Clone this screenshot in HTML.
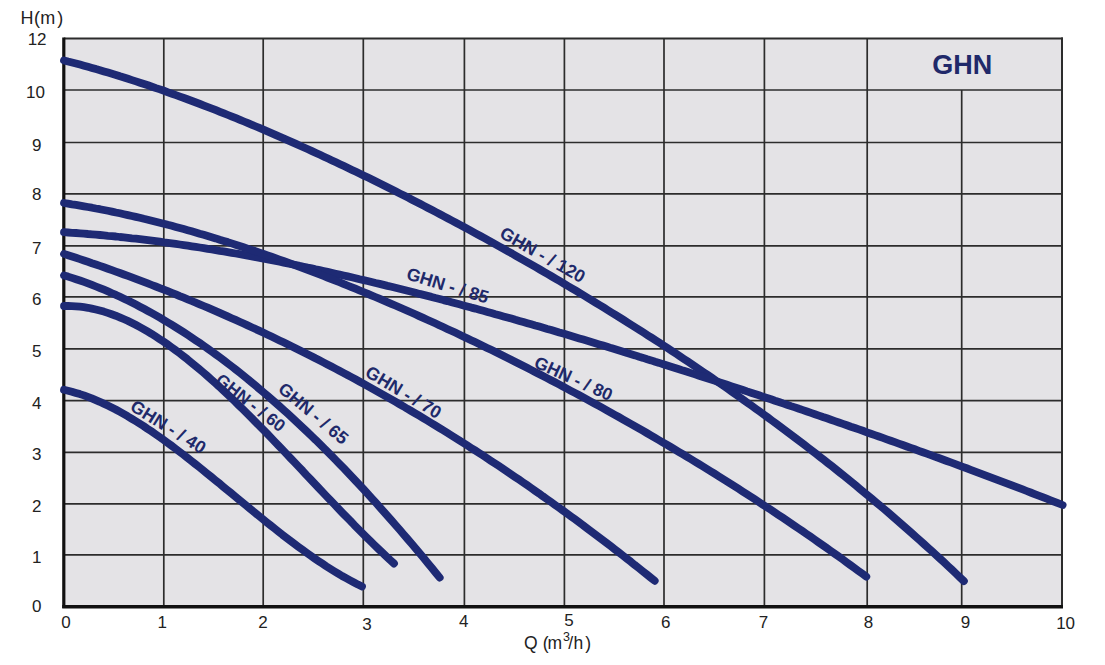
<!DOCTYPE html>
<html><head><meta charset="utf-8"><title>GHN</title>
<style>
html,body{margin:0;padding:0;background:#fff;}
body{width:1105px;height:665px;overflow:hidden;}
svg{display:block;}
.ax{font-family:"Liberation Sans",sans-serif;font-size:17px;fill:#222;}
.lb{font-family:"Liberation Sans",sans-serif;font-weight:bold;fill:#20296a;}
.ti{font-family:"Liberation Sans",sans-serif;font-size:27px;font-weight:bold;fill:#20296a;}
</style></head>
<body>
<svg width="1105" height="665" viewBox="0 0 1105 665">
<rect x="63.8" y="38.6" width="998.2" height="567.7" fill="#e4e3e6"/>
<line x1="63.8" y1="554.8" x2="1062.0" y2="554.8" stroke="#2c2c2c" stroke-width="1.7"/>
<line x1="63.8" y1="503.9" x2="1062.0" y2="503.9" stroke="#2c2c2c" stroke-width="1.7"/>
<line x1="63.8" y1="452.4" x2="1062.0" y2="452.4" stroke="#2c2c2c" stroke-width="1.7"/>
<line x1="63.8" y1="400.6" x2="1062.0" y2="400.6" stroke="#2c2c2c" stroke-width="1.7"/>
<line x1="63.8" y1="348.8" x2="1062.0" y2="348.8" stroke="#2c2c2c" stroke-width="1.7"/>
<line x1="63.8" y1="296.8" x2="1062.0" y2="296.8" stroke="#2c2c2c" stroke-width="1.7"/>
<line x1="63.8" y1="245.8" x2="1062.0" y2="245.8" stroke="#2c2c2c" stroke-width="1.7"/>
<line x1="63.8" y1="193.8" x2="1062.0" y2="193.8" stroke="#2c2c2c" stroke-width="1.7"/>
<line x1="63.8" y1="142.5" x2="1062.0" y2="142.5" stroke="#2c2c2c" stroke-width="1.7"/>
<line x1="63.8" y1="90.0" x2="1062.0" y2="90.0" stroke="#2c2c2c" stroke-width="1.7"/>
<line x1="63.8" y1="38.6" x2="1063.0" y2="38.6" stroke="#2c2c2c" stroke-width="2"/>
<line x1="163.8" y1="38.6" x2="163.8" y2="606.3" stroke="#2c2c2c" stroke-width="1.7"/>
<line x1="263.2" y1="38.6" x2="263.2" y2="606.3" stroke="#2c2c2c" stroke-width="1.7"/>
<line x1="363.3" y1="38.6" x2="363.3" y2="606.3" stroke="#2c2c2c" stroke-width="1.7"/>
<line x1="464.4" y1="38.6" x2="464.4" y2="606.3" stroke="#2c2c2c" stroke-width="1.7"/>
<line x1="564.4" y1="38.6" x2="564.4" y2="606.3" stroke="#2c2c2c" stroke-width="1.7"/>
<line x1="664.0" y1="38.6" x2="664.0" y2="606.3" stroke="#2c2c2c" stroke-width="1.7"/>
<line x1="764.4" y1="38.6" x2="764.4" y2="606.3" stroke="#2c2c2c" stroke-width="1.7"/>
<line x1="867.2" y1="38.6" x2="867.2" y2="606.3" stroke="#2c2c2c" stroke-width="1.7"/>
<line x1="961.7" y1="90.0" x2="961.7" y2="606.3" stroke="#2c2c2c" stroke-width="1.7"/>
<line x1="1062.0" y1="37.6" x2="1062.0" y2="606.3" stroke="#2c2c2c" stroke-width="2"/>
<line x1="63.8" y1="37.6" x2="63.8" y2="607.9" stroke="#111" stroke-width="3.2"/>
<line x1="62.2" y1="606.7" x2="1063.0" y2="606.7" stroke="#111" stroke-width="3.4"/>
<path d="M64.0,60.4 L68.0,61.5 L72.0,62.5 L76.0,63.5 L80.0,64.6 L84.0,65.7 L88.0,66.8 L92.0,67.9 L96.0,69.1 L100.0,70.2 L104.0,71.4 L108.0,72.6 L112.0,73.8 L116.0,75.0 L120.0,76.3 L124.0,77.5 L128.0,78.8 L132.0,80.1 L136.0,81.4 L140.0,82.7 L144.0,84.0 L148.0,85.3 L152.0,86.7 L156.0,88.1 L160.0,89.4 L164.0,90.8 L168.0,92.3 L172.0,93.7 L176.0,95.1 L180.0,96.6 L184.0,98.0 L188.0,99.5 L192.0,101.0 L196.0,102.5 L200.0,104.0 L204.0,105.6 L208.0,107.1 L212.0,108.6 L216.0,110.2 L220.0,111.8 L224.0,113.4 L228.0,115.0 L232.0,116.6 L236.0,118.2 L240.0,119.9 L244.0,121.5 L248.0,123.2 L252.0,124.8 L256.0,126.5 L260.0,128.2 L264.0,129.9 L268.0,131.6 L272.0,133.3 L276.0,135.1 L280.0,136.8 L284.0,138.6 L288.0,140.3 L292.0,142.1 L296.0,143.9 L300.0,145.7 L304.0,147.5 L308.0,149.3 L312.0,151.1 L316.0,153.0 L320.0,154.8 L324.0,156.7 L328.0,158.5 L332.0,160.4 L336.0,162.3 L340.0,164.2 L344.0,166.1 L348.0,168.0 L352.0,169.9 L356.0,171.8 L360.0,173.7 L364.0,175.7 L368.0,177.6 L372.0,179.6 L376.0,181.6 L380.0,183.5 L384.0,185.5 L388.0,187.5 L392.0,189.5 L396.0,191.5 L400.0,193.6 L404.0,195.6 L408.0,197.6 L412.0,199.7 L416.0,201.7 L420.0,203.8 L424.0,205.9 L428.0,208.0 L432.0,210.0 L436.0,212.1 L440.0,214.2 L444.0,216.4 L448.0,218.5 L452.0,220.6 L456.0,222.7 L460.0,224.9 L464.0,227.0 L468.0,229.2 L472.0,231.4 L476.0,233.6 L480.0,235.7 L484.0,237.9 L488.0,240.1 L492.0,242.4 L496.0,244.6 L500.0,246.8 L504.0,249.0 L508.0,251.3 L512.0,253.5 L515.9,255.8 L519.9,258.1 L523.9,260.3 L527.9,262.6 L531.9,264.9 L535.9,267.2 L539.9,269.5 L543.9,271.9 L547.9,274.2 L551.9,276.5 L555.9,278.9 L559.9,281.2 L563.9,283.6 L567.9,286.0 L571.9,288.3 L575.9,290.7 L579.9,293.1 L583.9,295.5 L587.9,298.0 L591.9,300.4 L595.9,302.8 L599.9,305.3 L603.9,307.7 L607.9,310.2 L611.9,312.7 L615.9,315.1 L619.9,317.6 L623.9,320.1 L627.9,322.7 L631.9,325.2 L635.9,327.7 L639.9,330.3 L643.9,332.8 L647.9,335.4 L651.9,337.9 L655.9,340.5 L659.9,343.1 L663.9,345.7 L667.9,348.3 L671.9,351.0 L675.9,353.6 L679.9,356.3 L683.9,358.9 L687.9,361.6 L691.9,364.3 L695.9,367.0 L699.9,369.7 L703.9,372.4 L707.9,375.1 L711.9,377.8 L715.9,380.6 L719.9,383.4 L723.9,386.1 L727.9,388.9 L731.9,391.7 L735.9,394.5 L739.9,397.4 L743.9,400.2 L747.9,403.1 L751.9,405.9 L755.9,408.8 L759.9,411.7 L763.9,414.6 L767.9,417.5 L771.9,420.5 L775.9,423.4 L779.9,426.4 L783.9,429.3 L787.9,432.3 L791.9,435.3 L795.9,438.4 L799.9,441.4 L803.9,444.4 L807.9,447.5 L811.9,450.6 L815.9,453.7 L819.9,456.8 L823.9,459.9 L827.9,463.1 L831.9,466.2 L835.9,469.4 L839.9,472.6 L843.9,475.8 L847.9,479.1 L851.9,482.3 L855.9,485.6 L859.9,488.9 L863.9,492.2 L867.9,495.5 L871.9,498.8 L875.9,502.2 L879.9,505.5 L883.9,508.9 L887.9,512.3 L891.9,515.8 L895.9,519.2 L899.9,522.7 L903.9,526.2 L907.9,529.7 L911.9,533.2 L915.9,536.8 L919.9,540.4 L923.9,544.0 L927.9,547.6 L931.9,551.2 L935.9,554.9 L939.9,558.5 L943.9,562.2 L947.9,566.0 L951.9,569.7 L955.9,573.5 L959.9,577.3 L963.9,581.1" fill="none" stroke="#1e2a74" stroke-width="7.8" stroke-linecap="round" stroke-linejoin="round"/>
<path d="M64.0,232.2 L68.0,232.5 L72.0,232.8 L76.0,233.0 L80.0,233.3 L84.0,233.6 L88.0,234.0 L92.0,234.3 L96.0,234.6 L99.9,235.0 L103.9,235.4 L107.9,235.8 L111.9,236.1 L115.9,236.5 L119.9,237.0 L123.9,237.4 L127.9,237.8 L131.9,238.3 L135.9,238.7 L139.9,239.2 L143.9,239.7 L147.9,240.2 L151.9,240.7 L155.9,241.2 L159.9,241.7 L163.9,242.3 L167.9,242.8 L171.8,243.3 L175.8,243.9 L179.8,244.5 L183.8,245.1 L187.8,245.7 L191.8,246.3 L195.8,246.9 L199.8,247.5 L203.8,248.1 L207.8,248.8 L211.8,249.4 L215.8,250.1 L219.8,250.8 L223.8,251.4 L227.8,252.1 L231.8,252.8 L235.8,253.5 L239.8,254.2 L243.7,254.9 L247.7,255.7 L251.7,256.4 L255.7,257.2 L259.7,257.9 L263.7,258.7 L267.7,259.4 L271.7,260.2 L275.7,261.0 L279.7,261.8 L283.7,262.6 L287.7,263.4 L291.7,264.2 L295.7,265.0 L299.7,265.9 L303.7,266.7 L307.7,267.6 L311.7,268.4 L315.6,269.3 L319.6,270.1 L323.6,271.0 L327.6,271.9 L331.6,272.8 L335.6,273.7 L339.6,274.6 L343.6,275.5 L347.6,276.4 L351.6,277.3 L355.6,278.2 L359.6,279.2 L363.6,280.1 L367.6,281.0 L371.6,282.0 L375.6,283.0 L379.6,283.9 L383.6,284.9 L387.5,285.9 L391.5,286.8 L395.5,287.8 L399.5,288.8 L403.5,289.8 L407.5,290.8 L411.5,291.8 L415.5,292.8 L419.5,293.9 L423.5,294.9 L427.5,295.9 L431.5,296.9 L435.5,298.0 L439.5,299.0 L443.5,300.1 L447.5,301.1 L451.5,302.2 L455.5,303.3 L459.4,304.3 L463.4,305.4 L467.4,306.5 L471.4,307.6 L475.4,308.6 L479.4,309.7 L483.4,310.8 L487.4,311.9 L491.4,313.0 L495.4,314.2 L499.4,315.3 L503.4,316.4 L507.4,317.5 L511.4,318.6 L515.4,319.8 L519.4,320.9 L523.4,322.0 L527.4,323.2 L531.3,324.3 L535.3,325.5 L539.3,326.6 L543.3,327.8 L547.3,329.0 L551.3,330.1 L555.3,331.3 L559.3,332.5 L563.3,333.6 L567.3,334.8 L571.3,336.0 L575.3,337.2 L579.3,338.4 L583.3,339.6 L587.3,340.8 L591.3,342.0 L595.3,343.2 L599.2,344.4 L603.2,345.6 L607.2,346.8 L611.2,348.1 L615.2,349.3 L619.2,350.5 L623.2,351.7 L627.2,353.0 L631.2,354.2 L635.2,355.4 L639.2,356.7 L643.2,357.9 L647.2,359.2 L651.2,360.4 L655.2,361.7 L659.2,362.9 L663.2,364.2 L667.2,365.5 L671.1,366.7 L675.1,368.0 L679.1,369.3 L683.1,370.6 L687.1,371.8 L691.1,373.1 L695.1,374.4 L699.1,375.7 L703.1,377.0 L707.1,378.3 L711.1,379.6 L715.1,380.9 L719.1,382.2 L723.1,383.5 L727.1,384.8 L731.1,386.1 L735.1,387.4 L739.1,388.7 L743.0,390.0 L747.0,391.4 L751.0,392.7 L755.0,394.0 L759.0,395.3 L763.0,396.7 L767.0,398.0 L771.0,399.3 L775.0,400.7 L779.0,402.0 L783.0,403.4 L787.0,404.7 L791.0,406.1 L795.0,407.4 L799.0,408.8 L803.0,410.1 L807.0,411.5 L811.0,412.9 L814.9,414.2 L818.9,415.6 L822.9,417.0 L826.9,418.3 L830.9,419.7 L834.9,421.1 L838.9,422.5 L842.9,423.9 L846.9,425.3 L850.9,426.7 L854.9,428.0 L858.9,429.4 L862.9,430.8 L866.9,432.3 L870.9,433.7 L874.9,435.1 L878.9,436.5 L882.9,437.9 L886.8,439.3 L890.8,440.7 L894.8,442.2 L898.8,443.6 L902.8,445.0 L906.8,446.5 L910.8,447.9 L914.8,449.3 L918.8,450.8 L922.8,452.2 L926.8,453.7 L930.8,455.1 L934.8,456.6 L938.8,458.0 L942.8,459.5 L946.8,461.0 L950.8,462.4 L954.8,463.9 L958.7,465.4 L962.7,466.9 L966.7,468.3 L970.7,469.8 L974.7,471.3 L978.7,472.8 L982.7,474.3 L986.7,475.8 L990.7,477.3 L994.7,478.8 L998.7,480.3 L1002.7,481.8 L1006.7,483.3 L1010.7,484.9 L1014.7,486.4 L1018.7,487.9 L1022.7,489.4 L1026.7,491.0 L1030.6,492.5 L1034.6,494.1 L1038.6,495.6 L1042.6,497.2 L1046.6,498.7 L1050.6,500.3 L1054.6,501.9 L1058.6,503.4 L1062.6,505.0" fill="none" stroke="#1e2a74" stroke-width="7.8" stroke-linecap="round" stroke-linejoin="round"/>
<path d="M64.0,203.0 L68.0,203.6 L72.0,204.3 L76.0,204.9 L80.0,205.6 L84.0,206.3 L87.9,207.0 L91.9,207.7 L95.9,208.5 L99.9,209.2 L103.9,210.0 L107.9,210.8 L111.9,211.6 L115.9,212.5 L119.9,213.3 L123.9,214.2 L127.9,215.1 L131.9,216.0 L135.8,216.9 L139.8,217.8 L143.8,218.8 L147.8,219.7 L151.8,220.7 L155.8,221.7 L159.8,222.7 L163.8,223.7 L167.8,224.8 L171.8,225.8 L175.8,226.9 L179.8,228.0 L183.7,229.1 L187.7,230.2 L191.7,231.3 L195.7,232.5 L199.7,233.7 L203.7,234.8 L207.7,236.0 L211.7,237.2 L215.7,238.4 L219.7,239.7 L223.7,240.9 L227.7,242.1 L231.6,243.4 L235.6,244.7 L239.6,246.0 L243.6,247.3 L247.6,248.6 L251.6,249.9 L255.6,251.3 L259.6,252.6 L263.6,254.0 L267.6,255.4 L271.6,256.8 L275.6,258.2 L279.5,259.6 L283.5,261.0 L287.5,262.5 L291.5,263.9 L295.5,265.4 L299.5,266.9 L303.5,268.4 L307.5,269.9 L311.5,271.4 L315.5,272.9 L319.5,274.4 L323.5,276.0 L327.4,277.5 L331.4,279.1 L335.4,280.7 L339.4,282.2 L343.4,283.8 L347.4,285.5 L351.4,287.1 L355.4,288.7 L359.4,290.3 L363.4,292.0 L367.4,293.6 L371.3,295.3 L375.3,297.0 L379.3,298.7 L383.3,300.4 L387.3,302.1 L391.3,303.8 L395.3,305.5 L399.3,307.3 L403.3,309.0 L407.3,310.8 L411.3,312.5 L415.3,314.3 L419.2,316.1 L423.2,317.9 L427.2,319.7 L431.2,321.5 L435.2,323.3 L439.2,325.2 L443.2,327.0 L447.2,328.9 L451.2,330.7 L455.2,332.6 L459.2,334.5 L463.2,336.4 L467.1,338.3 L471.1,340.2 L475.1,342.1 L479.1,344.0 L483.1,345.9 L487.1,347.9 L491.1,349.8 L495.1,351.8 L499.1,353.8 L503.1,355.8 L507.1,357.7 L511.1,359.7 L515.0,361.7 L519.0,363.8 L523.0,365.8 L527.0,367.8 L531.0,369.9 L535.0,371.9 L539.0,374.0 L543.0,376.0 L547.0,378.1 L551.0,380.2 L555.0,382.3 L559.0,384.4 L562.9,386.5 L566.9,388.6 L570.9,390.8 L574.9,392.9 L578.9,395.0 L582.9,397.2 L586.9,399.4 L590.9,401.6 L594.9,403.7 L598.9,405.9 L602.9,408.1 L606.8,410.3 L610.8,412.6 L614.8,414.8 L618.8,417.0 L622.8,419.3 L626.8,421.6 L630.8,423.8 L634.8,426.1 L638.8,428.4 L642.8,430.7 L646.8,433.0 L650.8,435.3 L654.7,437.6 L658.7,440.0 L662.7,442.3 L666.7,444.7 L670.7,447.0 L674.7,449.4 L678.7,451.8 L682.7,454.2 L686.7,456.6 L690.7,459.0 L694.7,461.5 L698.7,463.9 L702.6,466.3 L706.6,468.8 L710.6,471.3 L714.6,473.7 L718.6,476.2 L722.6,478.7 L726.6,481.2 L730.6,483.8 L734.6,486.3 L738.6,488.8 L742.6,491.4 L746.6,494.0 L750.5,496.5 L754.5,499.1 L758.5,501.7 L762.5,504.4 L766.5,507.0 L770.5,509.6 L774.5,512.3 L778.5,514.9 L782.5,517.6 L786.5,520.3 L790.5,523.0 L794.5,525.7 L798.4,528.4 L802.4,531.1 L806.4,533.9 L810.4,536.6 L814.4,539.4 L818.4,542.2 L822.4,545.0 L826.4,547.8 L830.4,550.6 L834.4,553.5 L838.4,556.3 L842.4,559.2 L846.3,562.1 L850.3,565.0 L854.3,567.9 L858.3,570.8 L862.3,573.7 L866.3,576.7" fill="none" stroke="#1e2a74" stroke-width="7.8" stroke-linecap="round" stroke-linejoin="round"/>
<path d="M64.0,253.9 L68.0,255.2 L72.0,256.5 L76.0,257.8 L80.0,259.1 L84.0,260.5 L87.9,261.8 L91.9,263.2 L95.9,264.5 L99.9,265.9 L103.9,267.3 L107.9,268.7 L111.9,270.2 L115.9,271.6 L119.9,273.0 L123.9,274.5 L127.9,275.9 L131.9,277.4 L135.8,278.9 L139.8,280.4 L143.8,281.9 L147.8,283.4 L151.8,285.0 L155.8,286.5 L159.8,288.1 L163.8,289.7 L167.8,291.2 L171.8,292.8 L175.8,294.4 L179.7,296.1 L183.7,297.7 L187.7,299.3 L191.7,301.0 L195.7,302.6 L199.7,304.3 L203.7,306.0 L207.7,307.7 L211.7,309.4 L215.7,311.1 L219.7,312.9 L223.6,314.6 L227.6,316.4 L231.6,318.2 L235.6,319.9 L239.6,321.7 L243.6,323.6 L247.6,325.4 L251.6,327.2 L255.6,329.1 L259.6,330.9 L263.6,332.8 L267.6,334.7 L271.5,336.6 L275.5,338.5 L279.5,340.4 L283.5,342.3 L287.5,344.3 L291.5,346.2 L295.5,348.2 L299.5,350.2 L303.5,352.2 L307.5,354.2 L311.5,356.2 L315.4,358.3 L319.4,360.3 L323.4,362.4 L327.4,364.4 L331.4,366.5 L335.4,368.6 L339.4,370.7 L343.4,372.9 L347.4,375.0 L351.4,377.2 L355.4,379.3 L359.4,381.5 L363.3,383.7 L367.3,385.9 L371.3,388.1 L375.3,390.3 L379.3,392.6 L383.3,394.8 L387.3,397.1 L391.3,399.4 L395.3,401.7 L399.3,404.0 L403.3,406.3 L407.2,408.7 L411.2,411.0 L415.2,413.4 L419.2,415.7 L423.2,418.1 L427.2,420.5 L431.2,423.0 L435.2,425.4 L439.2,427.8 L443.2,430.3 L447.2,432.8 L451.1,435.2 L455.1,437.7 L459.1,440.3 L463.1,442.8 L467.1,445.3 L471.1,447.9 L475.1,450.4 L479.1,453.0 L483.1,455.6 L487.1,458.2 L491.1,460.9 L495.1,463.5 L499.0,466.1 L503.0,468.8 L507.0,471.5 L511.0,474.2 L515.0,476.9 L519.0,479.6 L523.0,482.4 L527.0,485.1 L531.0,487.9 L535.0,490.7 L539.0,493.4 L542.9,496.3 L546.9,499.1 L550.9,501.9 L554.9,504.8 L558.9,507.6 L562.9,510.5 L566.9,513.4 L570.9,516.3 L574.9,519.2 L578.9,522.2 L582.9,525.1 L586.8,528.1 L590.8,531.1 L594.8,534.1 L598.8,537.1 L602.8,540.1 L606.8,543.2 L610.8,546.2 L614.8,549.3 L618.8,552.4 L622.8,555.5 L626.8,558.6 L630.8,561.7 L634.7,564.9 L638.7,568.0 L642.7,571.2 L646.7,574.4 L650.7,577.6 L654.7,580.8" fill="none" stroke="#1e2a74" stroke-width="7.8" stroke-linecap="round" stroke-linejoin="round"/>
<path d="M64.0,275.4 L68.0,276.6 L72.0,277.9 L76.0,279.2 L80.0,280.5 L84.0,281.9 L88.0,283.4 L92.0,284.9 L96.0,286.5 L100.0,288.1 L104.0,289.7 L108.0,291.4 L112.0,293.2 L116.0,294.9 L120.0,296.8 L124.0,298.7 L127.9,300.6 L131.9,302.6 L135.9,304.6 L139.9,306.7 L143.9,308.8 L147.9,311.0 L151.9,313.2 L155.9,315.4 L159.9,317.7 L163.9,320.1 L167.9,322.5 L171.9,324.9 L175.9,327.4 L179.9,329.9 L183.9,332.4 L187.9,335.0 L191.9,337.7 L195.9,340.4 L199.9,343.1 L203.9,345.9 L207.9,348.7 L211.9,351.6 L215.9,354.5 L219.9,357.4 L223.9,360.4 L227.9,363.5 L231.9,366.5 L235.9,369.6 L239.9,372.8 L243.9,376.0 L247.9,379.2 L251.8,382.5 L255.8,385.8 L259.8,389.2 L263.8,392.6 L267.8,396.0 L271.8,399.5 L275.8,403.0 L279.8,406.5 L283.8,410.1 L287.8,413.7 L291.8,417.4 L295.8,421.1 L299.8,424.8 L303.8,428.6 L307.8,432.4 L311.8,436.3 L315.8,440.1 L319.8,444.1 L323.8,448.0 L327.8,452.0 L331.8,456.0 L335.8,460.1 L339.8,464.2 L343.8,468.3 L347.8,472.5 L351.8,476.7 L355.8,481.0 L359.8,485.2 L363.8,489.5 L367.8,493.9 L371.8,498.3 L375.8,502.7 L379.7,507.1 L383.7,511.6 L387.7,516.1 L391.7,520.6 L395.7,525.2 L399.7,529.8 L403.7,534.5 L407.7,539.1 L411.7,543.8 L415.7,548.6 L419.7,553.3 L423.7,558.1 L427.7,562.9 L431.7,567.8 L435.7,572.7 L439.7,577.6" fill="none" stroke="#1e2a74" stroke-width="7.8" stroke-linecap="round" stroke-linejoin="round"/>
<path d="M64.0,306.0 L68.0,306.0 L72.0,306.1 L75.9,306.3 L79.9,306.7 L83.9,307.2 L87.9,307.8 L91.8,308.6 L95.8,309.5 L99.8,310.5 L103.8,311.6 L107.7,312.9 L111.7,314.3 L115.7,315.7 L119.7,317.3 L123.6,319.0 L127.6,320.8 L131.6,322.8 L135.6,324.8 L139.5,326.9 L143.5,329.1 L147.5,331.4 L151.5,333.8 L155.4,336.3 L159.4,338.9 L163.4,341.5 L167.4,344.3 L171.3,347.1 L175.3,350.0 L179.3,353.0 L183.3,356.1 L187.3,359.2 L191.2,362.4 L195.2,365.7 L199.2,369.0 L203.2,372.4 L207.1,375.8 L211.1,379.4 L215.1,382.9 L219.1,386.5 L223.0,390.2 L227.0,393.9 L231.0,397.7 L235.0,401.5 L238.9,405.4 L242.9,409.3 L246.9,413.2 L250.9,417.2 L254.8,421.2 L258.8,425.2 L262.8,429.3 L266.8,433.3 L270.7,437.4 L274.7,441.6 L278.7,445.7 L282.7,449.9 L286.7,454.1 L290.6,458.2 L294.6,462.4 L298.6,466.6 L302.6,470.8 L306.5,475.1 L310.5,479.3 L314.5,483.5 L318.5,487.7 L322.4,491.9 L326.4,496.1 L330.4,500.2 L334.4,504.4 L338.3,508.5 L342.3,512.7 L346.3,516.8 L350.3,520.8 L354.2,524.9 L358.2,528.9 L362.2,532.9 L366.2,536.9 L370.1,540.8 L374.1,544.7 L378.1,548.6 L382.1,552.4 L386.0,556.1 L390.0,559.9 L394.0,563.5" fill="none" stroke="#1e2a74" stroke-width="7.8" stroke-linecap="round" stroke-linejoin="round"/>
<path d="M64.0,389.8 L68.0,390.7 L71.9,391.7 L75.9,392.9 L79.9,394.1 L83.9,395.4 L87.8,396.9 L91.8,398.4 L95.8,400.1 L99.8,401.8 L103.7,403.6 L107.7,405.5 L111.7,407.5 L115.7,409.5 L119.6,411.7 L123.6,413.9 L127.6,416.2 L131.5,418.6 L135.5,421.0 L139.5,423.5 L143.5,426.0 L147.4,428.7 L151.4,431.3 L155.4,434.1 L159.4,436.9 L163.3,439.7 L167.3,442.6 L171.3,445.5 L175.3,448.5 L179.2,451.5 L183.2,454.5 L187.2,457.6 L191.1,460.7 L195.1,463.9 L199.1,467.0 L203.1,470.2 L207.0,473.4 L211.0,476.6 L215.0,479.9 L219.0,483.1 L222.9,486.4 L226.9,489.7 L230.9,492.9 L234.9,496.2 L238.8,499.5 L242.8,502.8 L246.8,506.0 L250.7,509.3 L254.7,512.6 L258.7,515.8 L262.7,519.0 L266.6,522.2 L270.6,525.4 L274.6,528.5 L278.6,531.7 L282.5,534.8 L286.5,537.8 L290.5,540.9 L294.5,543.9 L298.4,546.8 L302.4,549.7 L306.4,552.6 L310.3,555.4 L314.3,558.2 L318.3,560.9 L322.3,563.6 L326.2,566.2 L330.2,568.7 L334.2,571.2 L338.2,573.6 L342.1,576.0 L346.1,578.2 L350.1,580.4 L354.1,582.5 L358.0,584.6 L362.0,586.5" fill="none" stroke="#1e2a74" stroke-width="7.8" stroke-linecap="round" stroke-linejoin="round"/>
<text x="0" y="0" transform="translate(498.4 236.8) rotate(29.50)" class="lb" font-size="17.75">GHN - / 120</text>
<text x="0" y="0" transform="translate(405.4 278.9) rotate(17.00)" class="lb" font-size="17.75">GHN - / 85</text>
<text x="0" y="0" transform="translate(533.0 366.7) rotate(24.50)" class="lb" font-size="17.50">GHN - / 80</text>
<text x="0" y="0" transform="translate(364.1 375.6) rotate(31.00)" class="lb" font-size="17.75">GHN - / 70</text>
<text x="0" y="0" transform="translate(277.0 390.8) rotate(40.00)" class="lb" font-size="17.75">GHN - / 65</text>
<text x="0" y="0" transform="translate(214.6 382.0) rotate(38.00)" class="lb" font-size="17.25">GHN - / 60</text>
<text x="0" y="0" transform="translate(129.1 409.6) rotate(32.00)" class="lb" font-size="17.75">GHN - / 40</text>
<text x="932.2" y="74.3" class="ti">GHN</text>
<text x="36.8" y="612.0" class="ax" text-anchor="middle">0</text>
<text x="36.8" y="563.2" class="ax" text-anchor="middle">1</text>
<text x="36.8" y="511.9" class="ax" text-anchor="middle">2</text>
<text x="36.8" y="460.4" class="ax" text-anchor="middle">3</text>
<text x="36.8" y="408.6" class="ax" text-anchor="middle">4</text>
<text x="36.8" y="356.8" class="ax" text-anchor="middle">5</text>
<text x="36.8" y="304.8" class="ax" text-anchor="middle">6</text>
<text x="36.8" y="253.8" class="ax" text-anchor="middle">7</text>
<text x="36.8" y="200.4" class="ax" text-anchor="middle">8</text>
<text x="36.8" y="150.5" class="ax" text-anchor="middle">9</text>
<text x="35.5" y="98.0" class="ax" text-anchor="middle">10</text>
<text x="37.1" y="45.0" class="ax" text-anchor="middle">12</text>
<text x="66.1" y="627.6" class="ax" text-anchor="middle">0</text>
<text x="162.2" y="628.0" class="ax" text-anchor="middle">1</text>
<text x="262.9" y="628.0" class="ax" text-anchor="middle">2</text>
<text x="367.0" y="629.6" class="ax" text-anchor="middle">3</text>
<text x="463.7" y="627.4" class="ax" text-anchor="middle">4</text>
<text x="569.0" y="626.3" class="ax" text-anchor="middle">5</text>
<text x="665.8" y="628.0" class="ax" text-anchor="middle">6</text>
<text x="763.6" y="628.0" class="ax" text-anchor="middle">7</text>
<text x="868.4" y="628.0" class="ax" text-anchor="middle">8</text>
<text x="965.5" y="628.0" class="ax" text-anchor="middle">9</text>
<text x="1065.6" y="629.0" class="ax" text-anchor="middle">10</text>
<text x="20.5 34.1 40.2 57.2" y="24" class="ax" style="font-size:18px">H(m)</text>
<text x="524 542.8 547.6" y="649" class="ax" style="font-size:17.5px">Q(m</text>
<text x="562.9" y="640.8" class="ax" style="font-size:12.5px">3</text>
<text x="568.3 573.6 585.3" y="649" class="ax" style="font-size:17.5px">/h)</text>
</svg>
</body></html>
